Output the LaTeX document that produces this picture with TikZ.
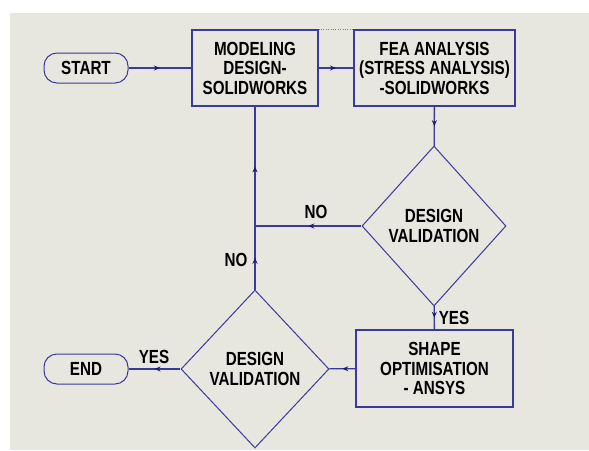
\documentclass[tikz,border=0pt]{standalone}
\usepackage{fontspec}
\setmainfont[FakeStretch=0.8]{Liberation Sans}
\usetikzlibrary{shapes.geometric,decorations.markings,arrows.meta}
\definecolor{flowblue}{HTML}{3A3A9C}
\definecolor{tipblue}{HTML}{1C1C70}
\definecolor{paper}{HTML}{E7E6DF}
\tikzset{
  procbox/.style={draw=flowblue, line width=1.3pt, minimum height=76pt, align=center, inner sep=2pt},
  termbox/.style={draw=flowblue, line width=1pt, rounded corners=13pt, minimum width=84pt, minimum height=30pt},
  decision/.style={diamond, draw=flowblue, line width=1pt, aspect=0.9, inner sep=0pt, align=center},
  flow/.style={draw=flowblue, line width=1.3pt, postaction={decorate},
    decoration={markings, mark=at position 0.5 with {\arrow[tipblue]{Stealth[length=6pt,width=5pt]}}}}
}
\begin{document}
\begin{tikzpicture}[x=1pt, y=-1pt, font=\fontsize{19}{19.5}\selectfont\bfseries]
    \useasboundingbox (0,0) rectangle (589,450);
    \fill[paper] (10,13) rectangle (589,450);
    % nodes
    \node[termbox] (start) at (86,68) {START};
    \node[procbox, minimum width=126pt] (model) at (255,68) {MODELING\\DESIGN-\\SOLIDWORKS};
    \node[procbox, minimum width=161pt] (fea) at (434.5,68) {FEA ANALYSIS\\(STRESS ANALYSIS)\\-SOLIDWORKS};
    \node[decision, minimum width=144pt, minimum height=160pt] (dec1) at (434,226) {DESIGN\\VALIDATION};
    \node[procbox, minimum width=157pt, minimum height=77pt] (shape) at (434.5,368.5) {SHAPE\\OPTIMISATION\\- ANSYS};
    \node[decision, minimum width=148pt, minimum height=158pt] (dec2) at (255,369) {DESIGN\\VALIDATION};
    \node[termbox] (end) at (86,369) {END};
    \coordinate (j) at (255,226);
    % connectors
    \draw[flow] (start) -- (model);
    \draw[flow] (model) -- (fea);
    \draw[gray, dotted] (model.north east) -- (fea.north west);
    \draw[flow] (fea) -- (dec1);
    \draw[flow] (dec1) -- (shape);
    \draw[flow] (shape) -- (dec2);
    \draw[flow] (dec2) -- (end);
    \draw[flow] (dec1) -- (j);
    \draw[flow] (dec2) -- (j);
    \draw[flow] (j) -- (model);
    % labels
    \node (no1) at (316,212) {NO};
    \node (no2) at (236,260) {NO};
    \node (yes1) at (454,318) {YES};
    \node (yes2) at (154,357) {YES};
\end{tikzpicture}
\end{document}
